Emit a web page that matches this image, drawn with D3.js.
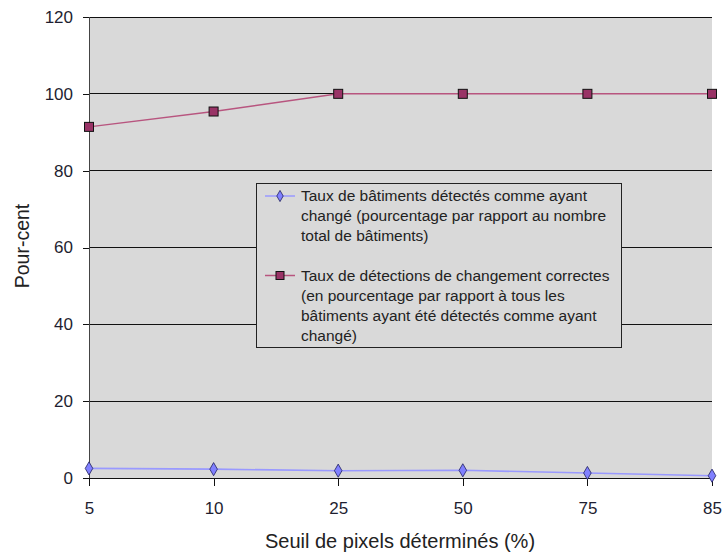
<!DOCTYPE html>
<html><head><meta charset="utf-8">
<script src="https://cdn.jsdelivr.net/npm/d3@7"></script>
<style>body{margin:0;background:#fff;} svg{display:block;font-family:"Liberation Sans",Arial,sans-serif;}</style>
</head><body><div id="chart"></div>
<script>
const categories = ["5", "10", "25", "50", "75", "85"];
const seriesDetected = [2.5, 2.3, 1.9, 2.0, 1.3, 0.6];
const seriesCorrect = [91.4, 95.4, 100, 100, 100, 100];
const yTicks = [0, 20, 40, 60, 80, 100, 120];
const legend1 = ["Taux de bâtiments détectés comme ayant", "changé (pourcentage par rapport au nombre", "total de bâtiments)"];
const legend2 = ["Taux de détections de changement correctes", "(en pourcentage par rapport à tous les", "bâtiments ayant été détectés comme ayant", "changé)"];
const xTitle = "Seuil de pixels déterminés (%)";
const yTitle = "Pour-cent";

const W = 724, H = 554;
const m = {l: 89, r: 12, t: 17, b: 76};
const svg = d3.select("#chart").append("svg").attr("width", W).attr("height", H);
const x = d3.scalePoint().domain(categories).range([m.l, W - m.r]);
const y = d3.scaleLinear().domain([0, 120]).range([H - m.b, m.t]);

svg.append("rect").attr("x", m.l).attr("y", m.t).attr("width", W - m.r - m.l).attr("height", H - m.b - m.t).attr("fill", "#d9d9d9");

svg.append("g").selectAll("line").data(yTicks.filter(d => d > 0)).join("line")
  .attr("x1", m.l).attr("x2", W - m.r).attr("y1", d => y(d)).attr("y2", d => y(d))
  .attr("stroke", "#111").attr("stroke-width", 1).attr("shape-rendering", "crispEdges");

const yAxis = svg.append("g").attr("transform", `translate(${m.l},0)`)
  .call(d3.axisLeft(y).tickValues(yTicks).tickSize(6).tickPadding(10));
yAxis.select(".domain").attr("stroke", "#444");
yAxis.selectAll(".tick line").attr("stroke", "#111");
yAxis.selectAll("text").attr("font-size", 17).attr("fill", "#1e1e30").attr("font-family", "Liberation Sans, Arial, sans-serif");

const xAxis = svg.append("g").attr("transform", `translate(0,${H - m.b})`)
  .call(d3.axisBottom(x).tickSize(8).tickPadding(16));
xAxis.select(".domain").attr("stroke", "#111").attr("d", `M${m.l},0H${W - m.r}`);
xAxis.selectAll(".tick line").attr("stroke", "#111");
xAxis.selectAll("text").attr("font-size", 17).attr("fill", "#1e1e30").attr("font-family", "Liberation Sans, Arial, sans-serif");

svg.selectAll(".domain, .tick line").attr("shape-rendering", "crispEdges");

const line = d3.line().x((d, i) => x(categories[i])).y(d => y(d));
svg.append("path").datum(seriesDetected).attr("d", line).attr("fill", "none").attr("stroke", "#9999ff").attr("stroke-width", 1.6);
svg.append("path").datum(seriesCorrect).attr("d", line).attr("fill", "none").attr("stroke", "#b8557f").attr("stroke-width", 1.5);

const diamond = d3.symbol().type(d3.symbolDiamond).size(50);
svg.append("g").selectAll("path").data(seriesDetected).join("path")
  .attr("d", diamond).attr("transform", (d, i) => `translate(${x(categories[i])},${y(d)})`)
  .attr("fill", "#8080ff").attr("stroke", "#202060").attr("stroke-width", 0.8);
svg.append("g").selectAll("rect").data(seriesCorrect).join("rect")
  .attr("x", (d, i) => x(categories[i]) - 4.5).attr("y", d => y(d) - 4.5)
  .attr("width", 9).attr("height", 9)
  .attr("fill", "#993366").attr("stroke", "#111").attr("stroke-width", 1);

const lg = svg.append("g");
lg.append("rect").attr("x", 256.5).attr("y", 183.5).attr("width", 365).attr("height", 164)
  .attr("fill", "#d9d9d9").attr("stroke", "#222").attr("stroke-width", 1);
const lx = 301;
const l1y = [201, 221, 241], l2y = [281, 301, 321, 341];
lg.append("line").attr("x1", 265).attr("x2", 295).attr("y1", 196).attr("y2", 196).attr("stroke", "#9999ff").attr("stroke-width", 1.5);
lg.append("path").attr("d", d3.symbol().type(d3.symbolDiamond).size(36)).attr("transform", "translate(280,196)").attr("fill", "#8080ff").attr("stroke", "#202060").attr("stroke-width", 0.8);
lg.append("line").attr("x1", 265).attr("x2", 295).attr("y1", 275.5).attr("y2", 275.5).attr("stroke", "#b8557f").attr("stroke-width", 1.5);
lg.append("rect").attr("x", 276).attr("y", 271.5).attr("width", 8).attr("height", 8).attr("fill", "#993366").attr("stroke", "#111");
lg.selectAll("text.a").data(legend1).join("text").attr("class", "a")
  .attr("x", lx).attr("y", (d, i) => l1y[i]).attr("font-size", 15.5).attr("fill", "#222").text(d => d);
lg.selectAll("text.b").data(legend2).join("text").attr("class", "b")
  .attr("x", lx).attr("y", (d, i) => l2y[i]).attr("font-size", 15.5).attr("fill", "#222").text(d => d);

svg.append("text").attr("x", 400).attr("y", 548).attr("text-anchor", "middle").attr("font-size", 20).attr("fill", "#222").text(xTitle);
svg.append("text").attr("transform", "translate(29,246) rotate(-90)").attr("text-anchor", "middle").attr("font-size", 19.5).attr("fill", "#222").text(yTitle);
</script></body></html>
